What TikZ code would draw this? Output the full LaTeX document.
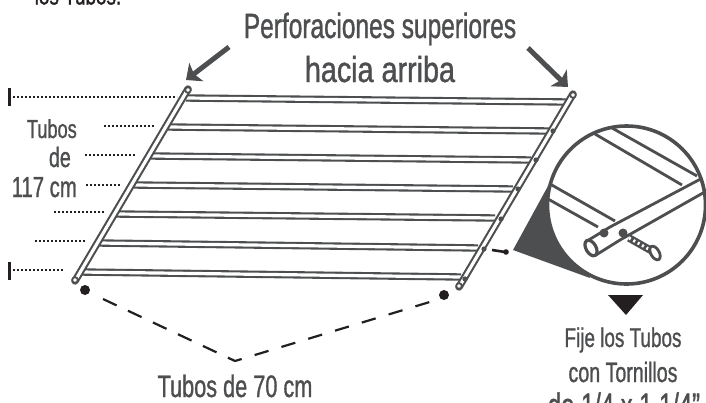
\documentclass[tikz,border=0pt]{standalone}
\usepackage{fontspec}
\setmainfont[FakeStretch=0.7,FakeBold=1]{Liberation Sans}
\usepackage{xcolor}
\usetikzlibrary{arrows.meta}
\definecolor{tubegray}{HTML}{4D4E50}
\definecolor{inkblack}{HTML}{231F20}
\tikzset{
  tube/.style={draw=tubegray, line width=2.1pt, double=white, double distance=3.2pt},
  thinedge/.style={tubegray, line width=2.8pt},
  dotline/.style={inkblack, line width=1.9pt, dash pattern=on 2pt off 2pt},
  endbar/.style={inkblack, line width=3pt},
  bigarrow/.style={tubegray, line width=5pt, -{Stealth[length=13pt,width=23pt,inset=3pt]}},
  label/.style={text=tubegray, inner sep=0pt, align=center, anchor=base}
}
\begin{document}
\begin{tikzpicture}[x=1pt, y=-1pt]
\useasboundingbox (0,0) rectangle (706,402);
\clip (0,0) rectangle (706,402);

% horizontal tubes
\foreach \ya/\xa/\xb/\yb in {98/186/567/102, 127/168/549/131, 156/151/531/160, 185/134/513/189, 214/116/495/218, 243/99/478/248, 272/81/461/277}
  \draw[tube] (\xa,\ya) -- (\xb,\yb);

% side tubes
\draw[tube, line cap=round] (188,89) -- (75,281);
\draw[tube, line cap=round] (573,94) -- (459,287);
\foreach \xe/\ye in {188/90, 75/280, 573/95, 459/286}
  \draw[tubegray, line width=1.8pt, fill=white] (\xe,\ye) circle (2.8pt);
\foreach \xh/\yh in {553/131, 536/160, 518/189, 501/219, 484/249, 465/279}
  \fill[tubegray] (\xh,\yh) circle (2.6pt);

% dotted guides
\foreach \xa/\xb/\yy in {13/177/97, 104/155/126, 85/136/155, 86/120/185, 54/105/212, 35/86/241, 13/64/270}
  \draw[dotline] (\xa,\yy) -- (\xb,\yy);
\draw[endbar] (9.5,88) -- (9.5,106);
\draw[endbar] (9.5,262) -- (9.5,280);

% arrows
\coordinate (lefttip) at (186,80);
\coordinate (righttip) at (568,87);
\draw[bigarrow] (229,47) -- (lefttip);
\draw[bigarrow] (528,48) -- (righttip);

% dashed bracket
\coordinate (dotleft) at (85,290);
\coordinate (dotright) at (444,295);
\coordinate (apex) at (235,361);
\fill[inkblack] (dotleft) circle (5pt);
\fill[inkblack] (dotright) circle (5pt);
\draw[inkblack, line width=2.2pt, dash pattern=on 15pt off 12.6pt] (103,299) -- (apex);
\draw[inkblack, line width=2.2pt, dash pattern=on 7pt off 13.5pt on 14.5pt off 13.5pt on 14.5pt off 13.5pt on 14.5pt off 13.5pt on 14.5pt off 13.5pt on 14.5pt off 13.5pt on 14.5pt off 13.5pt on 14.5pt off 13.5pt] (apex) -- (433,301);

% small screw
\draw[inkblack, line width=2.6pt] (492,250) -- (505,252);
\fill[inkblack] (506,252) circle (2.8pt);

% detail circle
\fill[tubegray] (513,250) -- (548,186) -- (590,278) -- cycle;
\fill[white] (626.5,205) circle (79pt);
\begin{scope}
\clip (626.5,205) circle (79pt);
\draw[thinedge] (595,134) -- (682,185);
\draw[thinedge] (612,128) -- (697,176);
\draw[thinedge] (550,184) -- (615,221);
\draw[thinedge] (548,199) -- (598,227);
\draw[thinedge] (587,241) -- (610,227) -- (710,174);
\draw[thinedge] (596,255) -- (620,240) -- (710,189);
\end{scope}
\draw[tubegray, line width=3.6pt] (626.5,205) circle (79pt);
\draw[tubegray, line width=3.2pt, fill=white, rotate around={-60:(591,248)}] (591,248) ellipse (8.5pt and 5pt);
\fill[tubegray] (604,233) circle (4.5pt);
\fill[tubegray] (623,233) circle (4.5pt);

% screw in the circle
\draw[tubegray, line width=7.5pt] (629,238) -- (652,251);
\draw[white, line width=3pt, dash pattern=on 2pt off 3pt] (629,238) -- (652,251);
\draw[tubegray, line width=2.8pt, fill=white, rotate around={-60:(655,253)}] (655,253) ellipse (7.5pt and 4.2pt);

% black marker
\fill[inkblack] (608,295) -- (643,295) -- (626,315) -- cycle;

% labels
\node[label, font=\fontsize{35}{35}\selectfont] (perfa) at (380,38) {Perforaciones superiores};
\node[label, font=\fontsize{36}{36}\selectfont] (perfb) at (380,82) {\scalebox{1.14}[1]{hacia arriba}};
\node[label, font=\fontsize{31}{31}\selectfont] (tubos) at (235,397) {Tubos de 70 cm};
\node[label, anchor=base east, font=\fontsize{26}{26}\selectfont] (tlabela) at (77,138) {Tubos};
\node[label, anchor=base east, font=\fontsize{28}{28}\selectfont] (tlabelb) at (71,167) {de};
\node[label, anchor=base east, font=\fontsize{29}{29}\selectfont] (tlabelc) at (77,197) {117 cm};
\node[label, font=\fontsize{27}{27}\selectfont] (fija) at (623,347) {Fije los Tubos};
\node[label, font=\fontsize{28}{28}\selectfont] (fijb) at (623,382) {con Tornillos};
\node[label, font=\fontsize{34}{34}\selectfont] (fijc) at (624,417) {de 1/4 x 1 1/4"};
\node[label, text=inkblack, font=\fontsize{27}{27}\selectfont] (topcut) at (78,4.5) {los Tubos:};
\end{tikzpicture}
\end{document}
